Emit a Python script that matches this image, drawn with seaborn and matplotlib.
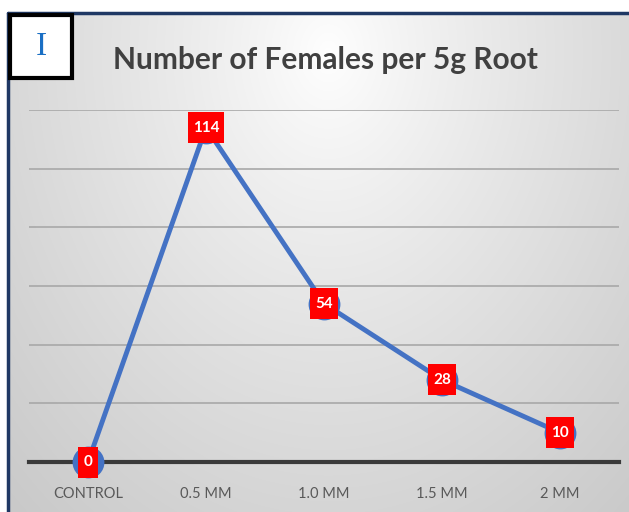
import numpy as np
import pandas as pd
import matplotlib
matplotlib.use("Agg")
import matplotlib.pyplot as plt
import seaborn as sns
from matplotlib.patches import Rectangle
from matplotlib.transforms import ScaledTranslation

categories = ["CONTROL", "0.5 MM", "1.0 MM", "1.5 MM", "2 MM"]
females = [0, 114, 54, 28, 10]
y_ticks = [0, 20, 40, 60, 80, 100, 120]

sns.set_theme(style="white")
plt.rcParams["font.family"] = ["Lato", "DejaVu Sans"]

W, H = 629, 512
DPI = 100
fig = plt.figure(figsize=(W / DPI, H / DPI), dpi=DPI)
fig.patch.set_facecolor("white")

# soft radial backdrop inside the frame
bg = fig.add_axes([8 / W, 0, 1 - 8 / W, 1 - 13 / H], zorder=0)
yy, xx = np.mgrid[0:500, 0:621]
d = np.sqrt(((xx - 320) / 440.0) ** 2 + ((yy - 40) / 580.0) ** 2)
shade = 1.0 - 0.2 * np.clip(d, 0, 1.2) ** 0.85
bg.imshow(np.dstack([shade] * 3), aspect="auto", extent=[0, 1, 0, 1], origin="upper")
bg.set_axis_off()

df = pd.DataFrame({"dose": categories, "females": females})

ax = fig.add_axes([29 / W, 50 / H, 590 / W, 352 / H], zorder=2)
ax.set_facecolor("none")
sns.lineplot(data=df, x="dose", y="females", sort=False, color="#4472C4",
             linewidth=3.5, ax=ax, zorder=3)
sns.scatterplot(data=df, x="dose", y="females", color="#4472C4", s=450,
                edgecolor="#4472C4", ax=ax, zorder=4, clip_on=False)

# red value tags: fixed height, width grows with the number of digits
for i, v in enumerate(females):
    label = str(v)
    w_px = 12 + 8 * len(label)
    h_px = 31
    trans = fig.dpi_scale_trans + ScaledTranslation(i, v, ax.transData)
    ax.add_patch(Rectangle((-w_px / 2 / DPI, -h_px / 2 / DPI), w_px / DPI, h_px / DPI,
                           transform=trans, fc="#FF0000", ec="none", zorder=5,
                           clip_on=False))
    ax.text(i, v, label, ha="center", va="center", color="white",
            fontsize=11, fontweight="bold", zorder=6, clip_on=False)

ax.set_xlim(-0.5, len(categories) - 0.5)
ax.set_ylim(0, 120)
ax.set_yticks(y_ticks)
ax.yaxis.grid(True, color="#a8a8a8", linewidth=1.2)
ax.set_axisbelow(True)
ax.tick_params(axis="y", left=False, labelleft=False)
ax.tick_params(axis="x", bottom=False, pad=12, labelsize=10.5, labelcolor="#595959")
ax.set_xlabel("")
ax.set_ylabel("")
for s in ["top", "right", "left"]:
    ax.spines[s].set_visible(False)
ax.spines["bottom"].set_color("#3a3a3a")
ax.spines["bottom"].set_linewidth(3)
ax.spines["bottom"].set_zorder(2.5)

fig.text(325 / W, 1 - 60 / H, "Number of Females per 5g Root", ha="center",
         va="center", fontsize=21.5, fontweight="bold", color="#404040", zorder=5)

# outer frame edges
fig.add_artist(plt.Line2D([8 / W, 8 / W], [0, 1 - 13 / H], color="#1F3864",
                          linewidth=2.5, transform=fig.transFigure, zorder=7))
fig.add_artist(plt.Line2D([8 / W, 1], [1 - 13 / H, 1 - 13 / H], color="#1F3864",
                          linewidth=2.5, transform=fig.transFigure, zorder=7))

# panel letter box
fig.add_artist(Rectangle((10 / W, 1 - 78 / H), 62 / W, 63 / H, transform=fig.transFigure,
                         fc="white", ec="black", linewidth=3, zorder=8))
fig.text(41 / W, 1 - 47 / H, "I", ha="center", va="center", fontsize=24,
         family=["Liberation Serif", "DejaVu Serif"], color="#1A6FC4", zorder=9)

fig.savefig("out.png", dpi=DPI)
